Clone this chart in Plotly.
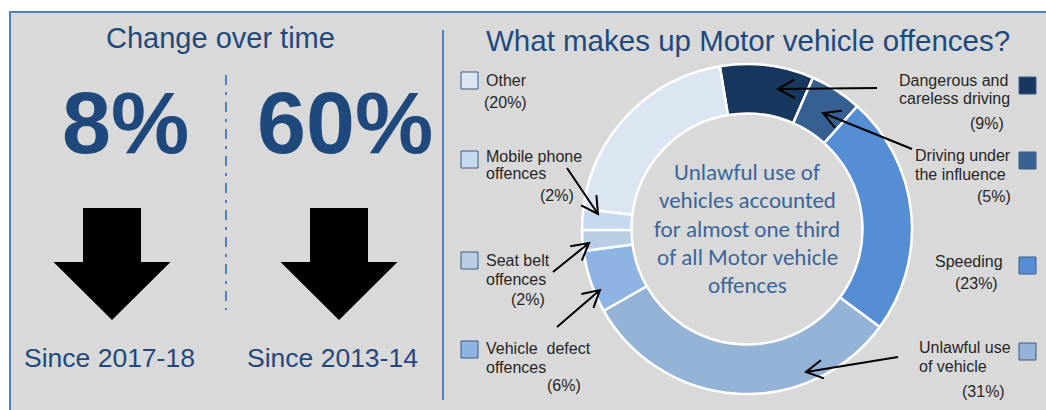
import math
import plotly.graph_objects as go

W, H = 1046, 410

# ---- data -------------------------------------------------------------
categories = [
    "Dangerous and careless driving",
    "Driving under the influence",
    "Speeding",
    "Unlawful use of vehicle",
    "Vehicle defect offences",
    "Seat belt offences",
    "Mobile phone offences",
    "Other",
]
shares = [9, 5, 23, 31, 6, 2, 2, 20]
slice_colors = ["#17375E", "#376092", "#558ED5", "#95B3D7",
                "#8EB4E3", "#B9CDE5", "#C6D9F1", "#DCE6F2"]
label_lines = [
    ["Dangerous and", "careless driving"],
    ["Driving under", "the influence"],
    ["Speeding"],
    ["Unlawful use", "of vehicle"],
    ["Vehicle  defect", "offences"],
    ["Seat belt", "offences"],
    ["Mobile phone", "offences"],
    ["Other"],
]

change_pct = [8, 60]
change_since = ["2017-18", "2013-14"]

centre_note = ["Unlawful use of", "vehicles accounted", "for almost one third",
               "of all Motor vehicle", "offences"]

# ---- styling / layout constants (pixel space, y grows downward) -------
NAVY = "#1F497D"
ACCENT = "#4F81BD"
PANEL = "#D9D9D9"
LABEL_INK = "#262626"
ARIAL = "Liberation Sans, Arial, sans-serif"
CALIBRI = "Carlito, Lato, sans-serif"

CX, CY, R = 747, 229, 165  # donut centre / outer radius

# per category: name x, name anchor, first line y, line gap,
#               pct x, pct anchor, pct y, legend square (x, y), pointer (tip, tail)
label_pos = [
    (897, "left", 80, 18.5, 1006, "right", 123, (1019, 77), ((778, 89), (877, 88))),
    (913, "left", 155, 19, 1013, "right", 196, (1019, 152), ((823, 113), (912, 149))),
    (933, "left", 261, 19, 1000, "right", 283, (1019, 257), None),
    (917, "left", 347, 19.5, 1007, "right", 391, (1019, 343), ((806, 372), (898, 357))),
    (484, "left", 348, 19, 583, "right", 385, (461, 341), ((600, 290), (557, 327))),
    (484, "left", 260, 19, 547, "right", 299, (461, 252), ((589, 243), (553, 272))),
    (484, "left", 156, 17.5, 576, "right", 195, (461, 151), ((598, 214), (567, 168))),
    (484, "left", 80, 19, 482, "left", 102, (461, 72), None),
]
SQ = 17
HEAD_LEN, HEAD_ANG = 19, math.radians(29)

fig = go.Figure()

# invisible cartesian trace so shapes/annotations can use pixel-like axes
fig.add_trace(go.Scatter(x=[], y=[], showlegend=False, hoverinfo="skip"))

fig.add_trace(go.Pie(
    labels=categories,
    values=shares,
    sort=False,
    direction="clockwise",
    rotation=-9.5,
    hole=0.70,
    marker=dict(colors=slice_colors, line=dict(color="white", width=2.5)),
    textinfo="none",
    hoverinfo="label+percent",
    showlegend=False,
    domain=dict(x=[(CX - R) / W, (CX + R) / W],
                y=[(H - CY - R) / H, (H - CY + R) / H]),
))

shapes = []
annotations = []

# panel background with border
shapes.append(dict(type="rect", xref="x", yref="y", x0=10, y0=12, x1=W + 6, y1=H + 6,
                   fillcolor=PANEL, line=dict(color=ACCENT, width=2), layer="below"))
# divider between the two panels
shapes.append(dict(type="line", xref="x", yref="y", x0=443, x1=443, y0=30, y1=400,
                   line=dict(color=ACCENT, width=2), layer="below"))
# dash-dot divider inside the left panel
shapes.append(dict(type="line", xref="x", yref="y", x0=226, x1=226, y0=75, y1=310,
                   line=dict(color=ACCENT, width=2, dash="10px,7px,3px,7px"), layer="below"))


def down_arrow(cx, top=208, neck=262, tip=320, shaft_half=29, head_half=58.5):
    pts = [(cx - shaft_half, top), (cx + shaft_half, top), (cx + shaft_half, neck),
           (cx + head_half, neck), (cx, tip), (cx - head_half, neck), (cx - shaft_half, neck)]
    return "M " + " L ".join(f"{x},{y}" for x, y in pts) + " Z"


def pointer(tip, tail):
    """Thin line with an open V head at `tip`."""
    (tx, ty), (ax, ay) = tip, tail
    base = math.atan2(ay - ty, ax - tx)
    p1 = (tx + HEAD_LEN * math.cos(base + HEAD_ANG), ty + HEAD_LEN * math.sin(base + HEAD_ANG))
    p2 = (tx + HEAD_LEN * math.cos(base - HEAD_ANG), ty + HEAD_LEN * math.sin(base - HEAD_ANG))
    path = (f"M {ax},{ay} L {tx},{ty} M {p1[0]:.1f},{p1[1]:.1f} L {tx},{ty} "
            f"L {p2[0]:.1f},{p2[1]:.1f}")
    return dict(type="path", xref="x", yref="y", path=path,
                line=dict(color="black", width=2), layer="above")


def text(x, y, s, size, color, family=ARIAL, anchor="center", bold=False):
    annotations.append(dict(
        x=x, y=y, xref="x", yref="y", text=f"<b>{s}</b>" if bold else s,
        showarrow=False, xanchor=anchor, yanchor="middle",
        font=dict(family=family, size=size, color=color)))


# ---- left panel: change over time ------------------------------------
text(220, 38, "Change over time", 29, NAVY)
num_x = [125, 345]
arrow_x = [112, 339]
since_x = [109, 332]
for i, pct in enumerate(change_pct):
    text(num_x[i], 122, f"{pct}%", 88, NAVY, bold=True)
    shapes.append(dict(type="path", xref="x", yref="y", path=down_arrow(arrow_x[i]),
                       fillcolor="black", line=dict(width=0), layer="below"))
    text(since_x[i], 358, f"Since {change_since[i]}", 26.5, NAVY)

# ---- right panel: composition donut ----------------------------------
text(748, 40, "What makes up Motor vehicle offences?", 29.5, NAVY)

for j, line in enumerate(centre_note):
    text(CX, 172 + j * 28.3, line, 23, "#3A659A", family=CALIBRI)

for lines, val, col, pos in zip(label_lines, shares, slice_colors, label_pos):
    nx, nanchor, ny, gap, px, panchor, py, (sx, sy), arrow = pos
    for k, ln in enumerate(lines):
        text(nx, ny + k * gap, ln, 16, LABEL_INK, anchor=nanchor)
    text(px, py, f"({val}%)", 16, LABEL_INK, anchor=panchor)
    shapes.append(dict(type="rect", xref="x", yref="y", x0=sx, y0=sy, x1=sx + SQ, y1=sy + SQ,
                       fillcolor=col, line=dict(color="#385D8A", width=1), layer="above"))
    if arrow:
        shapes.append(pointer(*arrow))

fig.update_layout(
    width=W, height=H,
    margin=dict(l=0, r=0, t=0, b=0),
    paper_bgcolor="white",
    plot_bgcolor="rgba(0,0,0,0)",
    xaxis=dict(range=[0, W], visible=False, fixedrange=True, domain=[0, 1]),
    yaxis=dict(range=[H, 0], visible=False, fixedrange=True, domain=[0, 1]),
    shapes=shapes,
    annotations=annotations,
    showlegend=False,
)

fig.write_html("out.html")
